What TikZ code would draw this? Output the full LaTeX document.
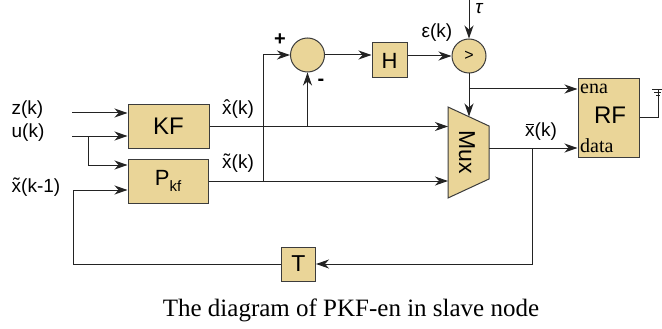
\documentclass[tikz,border=0pt]{standalone}
\usepackage{fontspec}
\setmainfont{Liberation Sans}
\newfontfamily\serifface{Liberation Serif}
\usetikzlibrary{arrows.meta}

\definecolor{blockfill}{RGB}{234,213,152}
\definecolor{blockedge}{RGB}{60,60,60}
\definecolor{wire}{RGB}{35,35,35}

% letter with an accent placed above it (#1 raise, #2 accent, #3 letter)
\newcommand\accd[3]{{\ooalign{#3\cr\hidewidth\raisebox{#1}{#2}\hidewidth\cr}}}
\newcommand\fsz[1]{\fontsize{#1}{#1}\selectfont}
\newcommand\xhat{\accd{0.06em}{ˆ}{x}}
\newcommand\xtil{\accd{0.06em}{˜}{x}}
\newcommand\xbar{\accd{0.64em}{\rule{0.4em}{0.06em}}{x}}

\tikzset{
  blockbox/.style={draw=blockedge, fill=blockfill, line width=1pt, inner sep=0pt},
  conn/.style={draw=wire, line width=1pt},
  arr/.style={conn, -{Stealth[length=13pt, width=9pt, inset=4pt]}},
  lbl/.style={inner sep=0pt, font=\fsz{19}},
}

\begin{document}
\begin{tikzpicture}[x=1pt, y=-1pt]
\useasboundingbox (0,0) rectangle (662,329);

% blocks
\node[blockbox, minimum width=81pt, minimum height=44pt, font=\fsz{24}] (kf) at (168.5,126.5) {KF};
\node[blockbox, minimum width=80pt, minimum height=44pt, font=\fsz{22}] (pkf) at (168,181)
  {P\raisebox{-0.3em}{\fsz{15}kf}};
\node[blockbox, minimum size=34pt, font=\fsz{23}] (t) at (298.5,264) {T};
\node[blockbox, minimum size=35pt, font=\fsz{22}] (h) at (389.5,60.5) {H};
\node[blockbox, circle, minimum size=34pt] (sum) at (307.5,55) {};
\node[blockbox, circle, minimum size=34pt, font=\fsz{16}] (cmp) at (469,56) {>};
\node[blockbox, minimum width=61pt, minimum height=78pt] (rf) at (608.5,118) {};
\node[inner sep=0pt, font=\fsz{24}] (rft) at (610,115) {RF};
\node[inner sep=0pt, anchor=west, font=\serifface\fsz{20}] (ena) at (580,89) {ena};
\node[inner sep=0pt, anchor=west, font=\serifface\fsz{20}] (dat) at (580,146) {data};

% multiplexer
\coordinate (m1) at (448,107);
\coordinate (m2) at (489,126);
\coordinate (m3) at (489,179);
\coordinate (m4) at (448,198);
\draw[blockbox] (m1) -- (m2) -- (m3) -- (m4) -- cycle;
\node[rotate=-90, inner sep=0pt, font=\fsz{23}] (muxl) at (467,152) {Mux};
\coordinate (muxa) at (448,126.5);
\coordinate (muxb) at (448,181);
\coordinate (muxtop) at (469,116.5);
\coordinate (muxout) at (489,148);

% connection points
\coordinate (zin) at (72,113);
\coordinate (uin) at (72,136);
\coordinate (ubr) at (88,136);
\coordinate (fbl) at (73,264);
\coordinate (tapb) at (263,181);
\coordinate (tau) at (469,0);
\coordinate (rfena) at ([yshift=29pt]rf.west);
\coordinate (rfdata) at ([yshift=-30pt]rf.west);
\coordinate (fbr) at (532,148);
\coordinate (gnd) at (658,90);

% inputs
\draw[arr] (zin) -- (zin -| kf.west);
\draw[arr] (uin) -- (uin -| kf.west);
\draw[arr] (ubr) |- ([yshift=16pt]pkf.west);
\draw[arr] (t.west) -- (fbl) |- ([yshift=-9pt]pkf.west);

% estimates into the multiplexer and the difference
\draw[arr] (kf.east) -- (muxa);
\draw[arr] (sum.south |- kf.east) -- (sum.south);
\draw[arr] (pkf.east) -- (muxb);
\draw[arr] (tapb) |- (sum.west);
\draw[arr] (sum.east) -- (sum.east -| h.west);
\draw[arr] (cmp.west -| h.east) -- (cmp.west);
\draw[arr] (tau) -- (cmp.north);
\draw[arr] (cmp.south) -- (muxtop);
\draw[arr] (cmp.south |- rfena) -- (rfena);

% output and feedback
\draw[arr] (muxout) -- (rfdata);
\draw[arr] (fbr) |- (t.east);

% ground on the RF block
\draw[conn] (rf.east) -| (gnd);
\draw[conn] (652,89.5) -- (663,89.5);
\draw[conn] (654,92.5) -- (661,92.5);
\draw[conn] (656,95.5) -- (659.5,95.5);

% signal labels
\node[lbl] (lz) at (27.5,110) {z(k)};
\node[lbl] (lu) at (28,133) {u(k)};
\node[lbl] (lxp) at (36,188) {\xtil(k-1)};
\node[lbl] (lxh) at (238,110) {\xhat(k)};
\node[lbl] (lxt) at (238,164) {\xtil(k)};
\node[lbl] (lxb) at (541,132) {\xbar(k)};
\node[lbl] (leps) at (437,33) {ε(k)};
\node[lbl, font=\fsz{19}\itshape] (ltau) at (479,9) {τ};
\node[lbl, font=\fsz{20}\bfseries] (lplus) at (280,40) {+};
\node[lbl, font=\fsz{20}\bfseries] (lminus) at (321,82) {-};

% caption
\node[inner sep=0pt, font=\serifface\fsz{25}] (cap) at (351,310) {The diagram of PKF-en in slave node};
\end{tikzpicture}
\end{document}
